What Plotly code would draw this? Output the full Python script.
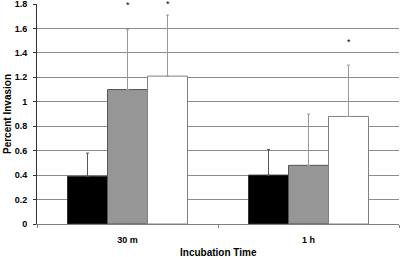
import plotly.graph_objects as go

categories = ["30 m", "1 h"]
series_names = ["Group A", "Group B", "Group C"]
values_a = [0.39, 0.40]
values_b = [1.10, 0.48]
values_c = [1.21, 0.88]
err_a = [0.19, 0.21]
err_b = [0.49, 0.42]
err_c = [0.50, 0.42]
# asterisk heights (None = no asterisk)
star_a = [None, None]
star_b = [1.79, None]
star_c = [1.80, 1.49]
y_ticks = [0, 0.2, 0.4, 0.6, 0.8, 1.0, 1.2, 1.4, 1.6, 1.8]
y_tick_labels = ["0", "0.2", "0.4", "0.6", "0.8", "1", "1.2", "1.4", "1.6", "1.8"]
grid_vals = y_ticks[1:-1]

fills = ["#000000", "#969696", "#ffffff"]
outlines = ["#333333", "#555555", "#808080"]
err_colors = ["#555555", "#999999", "#999999"]
BARGAP = 0.337
FONT = "Liberation Sans, Arial, sans-serif"

fig = go.Figure()
vals = [values_a, values_b, values_c]
errs = [err_a, err_b, err_c]
for i in range(3):
    fig.add_trace(go.Bar(
        x=categories, y=vals[i], name=series_names[i],
        marker=dict(color=fills[i], line=dict(color=outlines[i], width=1)),
        error_y=dict(type="data", symmetric=False, array=errs[i],
                     arrayminus=[0] * len(categories),
                     color=err_colors[i], thickness=1, width=1.5),
        cliponaxis=False,
    ))

bw = (1 - BARGAP) / 3
stars = [star_a, star_b, star_c]
for i in range(3):
    for j, s in enumerate(stars[i]):
        if s is None:
            continue
        fig.add_annotation(x=j + (i - 1) * bw, y=s, xref="x", yref="y",
                           text="*", showarrow=False,
                           font=dict(family=FONT, size=9, color="#000"),
                           yanchor="middle")

fig.add_annotation(text="<b>Incubation Time</b>", xref="paper", yref="paper",
                   x=0.5, y=0, yshift=-28, showarrow=False, yanchor="middle",
                   font=dict(family=FONT, size=10, color="#000"))
fig.add_annotation(text="<b>Percent Invasion</b>", xref="paper", yref="paper",
                   x=0, y=0.5, xshift=-30, showarrow=False, textangle=-90,
                   xanchor="center", yanchor="middle",
                   font=dict(family=FONT, size=10, color="#000"))

fig.update_layout(
    width=400, height=257,
    margin=dict(l=37, r=1, t=4, b=33, autoexpand=False),
    paper_bgcolor="white", plot_bgcolor="white",
    barmode="group", bargap=BARGAP, bargroupgap=0,
    showlegend=False,
    font=dict(family=FONT, size=9, color="#000"),
)
fig.update_xaxes(
    automargin=False,
    showline=True, linecolor="#808080", linewidth=1,
    ticks="outside", tickson="boundaries", ticklen=3, tickcolor="#808080",
    tickfont=dict(family=FONT, size=9, color="#000", weight="bold"),
    ticklabelstandoff=7,
    showgrid=False, range=[-0.5, 1.5],
)
fig.update_yaxes(
    automargin=False,
    range=[0, 1.8], tickvals=y_ticks, ticktext=y_tick_labels,
    showline=True, linecolor="#333333", linewidth=1,
    ticks="outside", ticklen=3, tickcolor="#333333",
    tickfont=dict(family=FONT, size=9, color="#000", weight="bold"),
    ticklabelstandoff=4, ticklabeloverflow="allow",
    showgrid=False,
    minor=dict(tickmode="array", tickvals=grid_vals, showgrid=True,
               gridcolor="#8c8c8c", gridwidth=1, ticks=""),
    zeroline=False,
)

fig.write_html("out.html", config={"displayModeBar": False},
               post_script="document.body.style.margin='0';document.body.style.overflow='hidden';")
